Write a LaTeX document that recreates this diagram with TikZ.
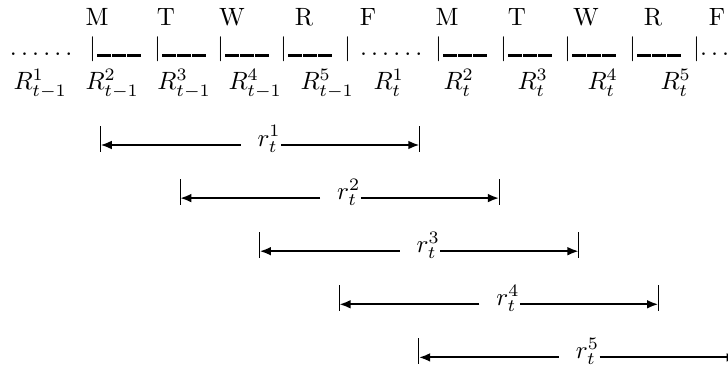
\documentclass[tikz,border=0pt]{standalone}
\usetikzlibrary{arrows.meta}
% one segment of the dashed day marks
\newcommand\usc{\kern.05em\vrule width .55em height .6pt depth .4pt}
\newcommand\dayseg{$|$\usc\usc\usc}
\begin{document}
\begin{tikzpicture}[x=0.4pt,y=-0.4pt,
  lbl/.style={inner sep=0pt,anchor=base},
  lblw/.style={inner sep=0pt,anchor=base west},
  span/.style={line width=0.8pt,-{Latex[length=4.5pt,width=3.5pt]}},
  tick/.style={line width=0.4pt}]
\clip (0,0) rectangle (728,373);
% weekdays
\foreach \x/\d [count=\i] in {97/M,166/T,232/W,304/R,368/F,447/M,517/T,586/W,653/R,717/F}
  \node[lbl] (day\i) at (\x,26) {\d};
% time line
\node[lblw] (dotsA) at (9.5,56) {$\ldots\ldots$};
\node[lblw] (dotsB) at (359.5,56) {$\ldots\ldots$};
\node[lblw] (dotsC) at (699.5,56) {$\ldots$};
\foreach \x [count=\i] in {92,157,220,283,438,503,567,632}
  \node[lblw] (seg\i) at (\x-3.5,56) {\dayseg};
\node[lblw] (barA) at (347-3.5,56) {$|$};
\node[lblw] (barB) at (696-3.5,56) {$|$};
% returns
\foreach \x/\s [count=\i] in {13/{t-1},85/{t-1},157/{t-1},228/{t-1},300/{t-1}}
  \node[lblw] (Rp\i) at (\x,90) {$R^{\i}_{\s}$};
\foreach \x [count=\i] in {373,443,517,587,660}
  \node[lblw] (Rc\i) at (\x,90) {$R^{\i}_{t}$};
% spans of the weekly returns
\foreach \i in {1,...,5} {
  \pgfmathsetmacro\L{100.5+79.6*(\i-1)}
  \pgfmathsetmacro\Y{145+53.1*(\i-1)}
  \coordinate (lt\i) at (\L,\Y);
  \coordinate (rt\i) at (\L+319,\Y);
  \coordinate (gl\i) at (\L+140,\Y);
  \draw[tick] ([yshift=7.6pt]lt\i) -- ([yshift=-2.8pt]lt\i);
  \draw[tick] ([yshift=7.6pt]rt\i) -- ([yshift=-2.8pt]rt\i);
  \node[lblw] (r\i) at (\L+156.5,\Y+1) {$r_t^{\i}$};
  \draw[span] (gl\i) -- (lt\i);
  \draw[span] (r\i.east |- lt\i) -- (rt\i);
}
\end{tikzpicture}
\end{document}
